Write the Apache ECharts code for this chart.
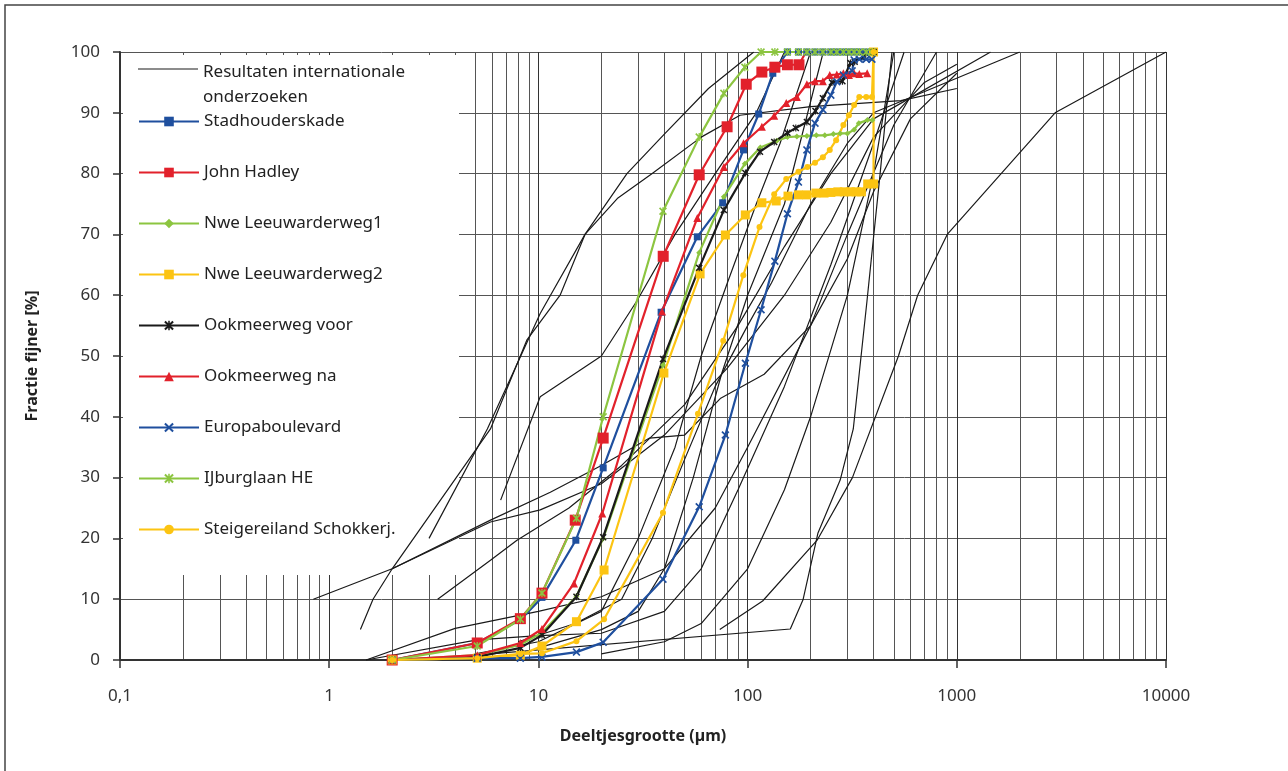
<!DOCTYPE html>
<html><head><meta charset="utf-8">
<script src="https://cdn.jsdelivr.net/npm/echarts@6/dist/echarts.min.js"></script>
<style>html,body{margin:0;padding:0;background:#fff}#c{width:1288px;height:771px}</style>
</head><body><div id="c"></div>
<script>
// ---------- tick labels / grid ----------
const xTickValues = [0.1, 1, 10, 100, 1000, 10000];
const xTickLabels = ['0,1', '1', '10', '100', '1000', '10000'];
const minorGridX = [0.2,0.3,0.4,0.5,0.6,0.7,0.8,0.9, 2,3,4,5,6,7,8,9, 20,30,40,50,60,70,80,90,
  200,300,400,500,600,700,800,900, 2000,3000,4000,5000,6000,7000,8000,9000];

// ---------- series names ----------
const refName = 'Resultaten internationale onderzoeken';
const names = ['Stadhouderskade','John Hadley','Nwe Leeuwarderweg1','Nwe Leeuwarderweg2',
  'Ookmeerweg voor','Ookmeerweg na','Europaboulevard','IJburglaan HE','Steigereiland Schokkerj.'];

// ---------- measured series ----------
const stadhouderskade = [[2,0],[5.1,2.8],[8.2,6.6],[10.4,10.3],[15.1,19.7],[20.4,31.6],[38.6,57.2],[57.5,69.6],[76,75.2],[95.6,83.9],[113,89.8],[132,96.5],[155,100],[175,100],[192,100],[210,100],[229,100],[250,100],[267,100],[287,100],[305,100],[323,100],[342,100],[369,100],[400,100]];
const johnHadley = [[2,0],[5.1,2.8],[8.2,6.8],[10.4,11],[15,23],[20.4,36.5],[39.5,66.4],[58.7,79.8],[79.8,87.7],[98.5,94.7],[117,96.7],[135,97.5],[155,97.9],[176,97.9],[190,100],[400,100]];
const johnHadleyUnmarked = [190, 400];   // x values of points drawn without a marker
const nweLeeuwarderweg1 = [[2,0],[5.1,0.8],[8.2,2.5],[10.4,4.5],[15.2,10.5],[20.4,20],[39.4,48.5],[58.7,67],[77,76.2],[97,81.6],[115,84.3],[138,85.4],[155,86],[172,86.1],[192,86.2],[213,86.3],[234,86.3],[257,86.5],[277,86.6],[300,86.6],[323,87.2],[340,88.3],[374,88.8],[395,88.8]];
const nweLeeuwarderweg2 = [[2,0],[5.1,0.3],[8.2,0.8],[10.4,2.3],[15.2,6.3],[20.6,14.8],[39.8,47.2],[59.3,63.5],[78.3,69.9],[97.5,73.2],[117,75.2],[137,75.5],[156,76.3],[175,76.5],[192,76.5],[212,76.8],[232,76.8],[250,76.9],[270,77],[290,77],[310,77],[330,77],[350,77],[375,78.3],[400,78.3],[400,100]];
const ookmeerwegVoor = [[2,0],[5.1,0.5],[8.2,2],[10.4,4.1],[15.2,10.4],[20.4,20.2],[39.4,49.5],[58.7,64.5],[77,74],[97.6,80.1],[114.6,83.6],[134,85.2],[155,86.7],[170,87.5],[192,88.5],[211,90.3],[229,92.4],[253,95],[284,95.2],[310,98.2],[325,98.4],[360,99.3],[400,100]];
const ookmeerwegNa = [[2,0],[5.1,0.8],[8.2,2.8],[10.4,5.1],[14.8,12.6],[20.2,24.1],[39,57.3],[57.5,72.7],[77,81.1],[95.6,85],[117,87.7],[134,89.5],[153,91.6],[172,92.6],[192,94.7],[210,95.2],[229,95.2],[247,96.2],[267,96.3],[287,96.5],[305,96.2],[323,96.5],[342,96.4],[373,96.5]];
const europaboulevard = [[2,0],[5.1,0.3],[8.2,0.3],[10.4,0.5],[15.2,1.3],[20.4,2.9],[39.4,13.3],[58.7,25.2],[78.3,37],[97.6,48.8],[116,57.6],[135,65.6],[155,73.4],[175,78.6],[192,83.9],[210,88.3],[229,90.5],[250,92.9],[267,95.1],[287,96.2],[316,96.9],[323,98.7],[342,98.8],[369,98.8],[393,98.8]];
const ijburglaanHE = [[2,0],[5.1,2.3],[8.2,6.7],[10.4,11],[15.2,23.3],[20.4,40],[39.4,73.8],[58.7,86],[77,93.2],[97,97.5],[116,100],[135,100],[155,100],[175,100],[192,100],[210,100],[229,100],[250,100],[267,100],[287,100],[305,100],[323,100],[342,100],[369,100],[393,100]];
const steigereiland = [[2,0],[5.1,0.3],[8.2,1],[10.4,1.1],[15.2,3.1],[20.6,6.7],[39.4,24.2],[57.9,40.5],[76.5,52.5],[95.4,63.3],[114,71.2],[134,76.6],[153,79.1],[175,80.3],[193,81.1],[210,81.8],[229,82.7],[247,83.9],[265,85.5],[287,88],[305,89.6],[323,91.3],[342,92.6],[369,92.6],[393,92.6],[400,100]];

// ---------- literature curves (black) ----------
const ref01 = [[0.84,10],[2,15],[5.9,38],[8.8,52.6],[12.7,60],[16.7,70],[26.5,80],[40,86.5],[65,94],[107,100]];
const ref02 = [[3,20],[5.7,38],[10.2,57],[16.7,70],[24,76],[35,80],[60,86],[92,89.6],[200,91],[540,92],[1000,94]];
const ref03 = [[1.41,5],[1.62,10],[2,15],[5.9,23],[11.4,27.6],[20,32],[34,36.5],[50,37],[74,43],[120,47],[200,55],[300,66],[400,77],[600,89],[1000,96.5]];
const ref04 = [[2,15],[5.9,22.7],[10.2,24.7],[20,29],[40,37],[80,48],[150,60],[250,72],[400,86],[700,95],[1000,98]];
const ref05 = [[3.3,10],[5.9,16.4],[7.9,19.7],[14,25],[25,32],[50,42],[90,55],[150,68],[250,80],[400,89],[1450,100]];
const ref06 = [[6.6,26.3],[10.2,43.3],[20,50],[29.5,59],[45,70],[70,80],[110,90],[150,100]];
const ref07 = [[1.5,0],[4,5.2],[10,8],[20,10.4],[40,15],[70,25],[100,35],[200,55],[300,70],[500,88],[800,100]];
const ref08 = [[1.5,0],[5.1,3.3],[10,4],[20,4.4],[40,8],[60,15],[90,28],[150,45],[250,65],[400,85],[560,100]];
const ref09 = [[5,0.8],[160,5.1],[184,9.9],[217,20.9],[277,29.6],[320,38],[372,59],[430,80],[490,100]];
const ref10 = [[73.6,5],[118,9.7],[215,19.7],[317,30],[526,50],[650,60],[900,70],[2950,90],[10000,100]];
const ref11 = [[8,3],[15,6],[25,10],[35,20],[50,33],[70,45],[100,55],[130,62],[200,75],[300,85],[400,90],[2000,100]];
const ref12 = [[10,2],[20,5],[30,8],[40,15],[55,30],[75,47],[100,60],[150,75],[230,100]];
const ref13 = [[5,1],[10,3],[20,8],[30,20],[45,35],[60,50],[80,62],[110,75],[143,85],[200,100]];
const ref14 = [[20,1],[40,3],[60,6],[100,15],[150,28],[200,40],[300,60],[400,80],[500,100]];
const refCurves = [ref01,ref02,ref03,ref04,ref05,ref06,ref07,ref08,ref09,ref10,ref11,ref12,ref13,ref14];

// ---------- styling ----------
const FONT = 'Noto Sans';
const BLUE = '#1f4f9e', RED = '#e2212b', GREEN = '#8cc540', YELLOW = '#fcc412', BLACK = '#1a1a1a';
const X_PATH = 'path://M0,1.5L1.5,0L5,3.5L8.5,0L10,1.5L6.5,5L10,8.5L8.5,10L5,6.5L1.5,10L0,8.5L3.5,5Z';
const STAR_PATH = 'path://M0,1.5L1.5,0L4.2,2.7L4.2,0L5.8,0L5.8,2.7L8.5,0L10,1.5L6.5,5L10,8.5L8.5,10L5.8,7.3L5.8,10L4.2,10L4.2,7.3L1.5,10L0,8.5L3.5,5Z';

const jhData = johnHadley.map(p => johnHadleyUnmarked.indexOf(p[0]) >= 0 ? {value: p, symbol: 'none'} : p);

const measured = [
  {name: names[0], data: stadhouderskade, color: BLUE, symbol: 'rect', size: 7},
  {name: names[1], data: jhData, color: RED, symbol: 'rect', size: 11},
  {name: names[2], data: nweLeeuwarderweg1, color: GREEN, symbol: 'diamond', size: 6},
  {name: names[3], data: nweLeeuwarderweg2, color: YELLOW, symbol: 'rect', size: 9},
  {name: names[4], data: ookmeerwegVoor, color: BLACK, symbol: STAR_PATH, size: 7},
  {name: names[5], data: ookmeerwegNa, color: RED, symbol: 'triangle', size: 8},
  {name: names[6], data: europaboulevard, color: BLUE, symbol: X_PATH, size: 8},
  {name: names[7], data: ijburglaanHE, color: GREEN, symbol: STAR_PATH, size: 8},
  {name: names[8], data: steigereiland, color: YELLOW, symbol: 'circle', size: 6}
];

const series = [];
series.push({
  type: 'line', name: '_grid', data: [], z: 0, silent: true,
  markLine: {
    z: 0, silent: true, symbol: ['none','none'], animation: false,
    label: {show: false},
    lineStyle: {color: '#555', width: 1, type: 'solid'},
    emphasis: {disabled: true},
    data: minorGridX.map(v => ({xAxis: v}))
  }
});
refCurves.forEach(c => series.push({
  type: 'line', name: refName, data: c, symbol: 'none', z: 2, silent: true,
  lineStyle: {color: BLACK, width: 1.2}, itemStyle: {color: BLACK}
}));
measured.forEach(m => series.push({
  type: 'line', name: m.name, data: m.data, z: 3,
  symbol: m.symbol, symbolSize: m.size, showSymbol: true,
  lineStyle: {color: m.color, width: 2.2}, itemStyle: {color: m.color}
}));

const option = {
  animation: false,
  backgroundColor: '#fff',
  textStyle: {fontFamily: FONT},
  grid: {left: 120, right: 122, top: 52, bottom: 111, containLabel: false},
  xAxis: {
    type: 'log', logBase: 10, min: 0.1, max: 10000,
    name: 'Deeltjesgrootte (µm)', nameLocation: 'middle', nameGap: 68,
    nameTextStyle: {fontWeight: 'bold', fontSize: 16, color: '#222', fontFamily: FONT},
    axisLine: {onZero: false, lineStyle: {color: '#333', width: 2}},
    axisTick: {show: true, length: 8, lineStyle: {color: '#333', width: 1.5}},
    axisLabel: {margin: 28, fontSize: 17, color: '#333', fontFamily: FONT,
      formatter: v => { const i = xTickValues.findIndex(t => Math.abs(Math.log10(t) - Math.log10(v)) < 1e-6); return i >= 0 ? xTickLabels[i] : ''; }},
    splitLine: {show: true, lineStyle: {color: '#333', width: 1}}
  },
  yAxis: {
    type: 'value', min: 0, max: 100, interval: 10,
    name: 'Fractie fijner [%]', nameLocation: 'middle', nameGap: 80,
    nameTextStyle: {fontWeight: 'bold', fontSize: 16, color: '#222', fontFamily: FONT},
    axisLine: {show: true, lineStyle: {color: '#333', width: 2}},
    axisTick: {show: true, length: 7, lineStyle: {color: '#333', width: 1.5}},
    axisLabel: {margin: 20, fontSize: 17, color: '#333', fontFamily: FONT},
    splitLine: {show: true, lineStyle: {color: '#555', width: 1}}
  },
  legend: {
    orient: 'vertical', left: 138, top: 113, padding: 0,
    itemWidth: 60, itemHeight: 12, itemGap: 34,
    selectedMode: false, data: names,
    textStyle: {fontSize: 17, color: '#222', fontFamily: FONT}
  },
  graphic: [
    {type: 'rect', z: 1, silent: true, shape: {x: 123, y: 55, width: 336, height: 520}, style: {fill: '#fff'}},
    {type: 'rect', z: 10, silent: true, shape: {x: 5, y: 5, width: 1300, height: 800}, style: {fill: 'none', stroke: '#444', lineWidth: 1.5}},
    {type: 'line', z: 10, silent: true, shape: {x1: 138, y1: 69, x2: 198, y2: 69}, style: {stroke: BLACK, lineWidth: 1.2}},
    {type: 'text', z: 10, silent: true, x: 203, y: 72, style: {text: 'Resultaten internationale', fontSize: 17, fill: '#222', fontFamily: FONT, verticalAlign: 'middle'}},
    {type: 'text', z: 10, silent: true, x: 203, y: 97, style: {text: 'onderzoeken', fontSize: 17, fill: '#222', fontFamily: FONT, verticalAlign: 'middle'}}
  ],
  series: series
};

const chart = echarts.init(document.getElementById('c'), null, {renderer: 'canvas'});
chart.setOption(option);
</script>
</body></html>
